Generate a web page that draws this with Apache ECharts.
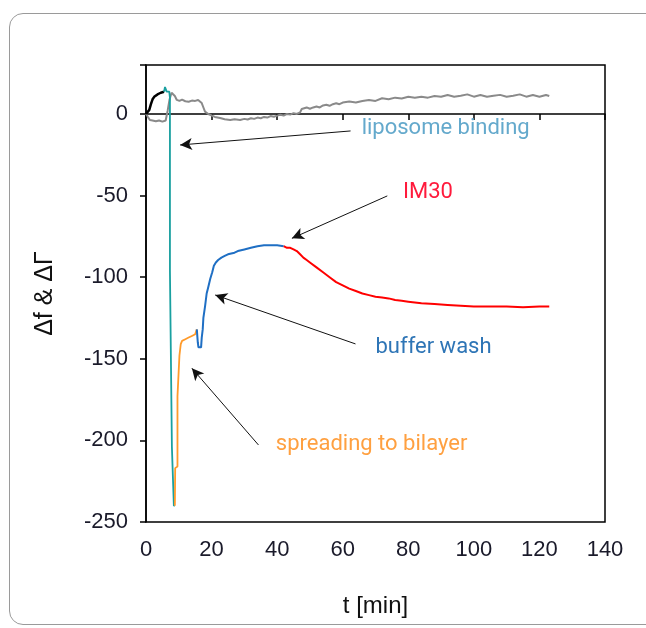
<!DOCTYPE html>
<html>
<head>
<meta charset="utf-8">
<script src="https://cdn.jsdelivr.net/npm/echarts@6/dist/echarts.min.js"></script>
<style>
html,body{margin:0;padding:0;background:#fff;overflow:hidden;width:646px;height:628px}
#frame{position:absolute;left:9px;top:13px;width:1000px;height:610px;border:1.5px solid #9a9a9a;border-radius:14px}
#c{position:absolute;left:0;top:0;width:646px;height:628px}
</style>
</head>
<body>
<div id="frame"></div>
<div id="c"></div>
<script>
// ---- data: [t (min), value] ----
var grayTrace = [[0,0],[0.5,-1.6],[1.2,-3.7],[2,-4],[3,-4.5],[4,-4],[5,-4.7],[6,-4],[6.6,2],[7.2,9],[7.8,13],[8.3,13.7],[8.8,11],[9.4,8.6],[10.2,8],[11,8.8],[12,7.8],[13,7.5],[14,8.2],[15,8],[15.9,8.6],[16.5,9],[17,6.7],[17.6,3.5],[18,1.4],[19,0],[19.6,-0.6],[21,-1.8],[22.6,-2.5],[24,-3.2],[25.7,-3.7],[27,-3.2],[28.7,-3.7],[30,-3],[31,-3.4],[32,-2.6],[33,-3],[34,-2.2],[35,-2.6],[36,-1.8],[37,-2.2],[38,-1.3],[39,-1.7],[40,-1],[41,-0.5],[42,-1],[43,0],[44,-0.4],[45,0.5],[46,0],[47,1],[47.5,3],[48,2],[49,4],[50,3.2],[51,4],[52,4.6],[53,4],[54,5.2],[55,5.6],[56,5],[57,6],[58,6.6],[59,6],[60,7],[62,7.6],[64,7],[66,8],[68,8.6],[70,8],[72,9.6],[74,9],[76,10],[78,9.5],[80,10.5],[82,10],[84,10.6],[86,10],[88,11],[90,10.5],[92,11.6],[94,10.6],[96,11.2],[98,12],[100,10.6],[102,11.6],[104,10.6],[106,11.2],[108,11.7],[110,10.6],[112,11.2],[114,12],[116,10.6],[118,11.6],[120,10.6],[122,11.6],[123,11]];
var blackTrace = [[0,0],[0.5,1],[1,2.5],[1.5,6],[2,9],[2.5,10.5],[3,11.5],[3.5,12],[4,12.5],[4.5,13],[5,13.4],[5.5,13.6]];
var tealTrace = [[5.5,13.6],[5.8,16.5],[6.3,13.7],[7.1,13.7],[7.3,10],[7.3,-96],[7.9,-97],[7.9,-204],[8.5,-205],[8.5,-240],[8.8,-240]];
var orangeTrace = [[8.8,-240],[8.9,-217],[9.6,-216],[9.6,-173],[10.2,-172],[10.2,-148],[10.6,-141],[11,-139],[12,-138],[13,-137],[14,-136],[15,-135],[15.5,-132]];
var blueTrace = [[15.5,-132],[15.8,-140],[16,-143],[16.8,-143],[17,-137],[17.3,-132],[17.5,-125],[18,-118],[18.5,-110],[19,-106],[19.6,-101],[20.2,-97],[20.7,-93],[21.3,-91],[22,-89.5],[23,-88],[24,-87],[25,-86],[26,-85.5],[27,-85],[28,-84],[30,-83],[32,-82],[34,-81],[36,-80.5],[38,-80.5],[40,-80.5],[42,-81]];
var redTrace = [[42,-81],[43,-82],[44,-82],[45,-83],[46,-84],[47,-86],[48,-88],[49,-89.5],[50,-91],[52,-94],[54,-97],[56,-100],[58,-103],[60,-105],[62,-107],[64,-108.5],[66,-110],[68,-111],[70,-112],[72,-112.5],[74,-113],[76,-114],[78,-114.5],[80,-115],[84,-116],[88,-116.5],[92,-117],[96,-117.5],[100,-118],[105,-118],[110,-118],[115,-118.5],[120,-118],[123,-118]];

// annotations: label text, text centre [t,v], arrow tail [t,v], arrow tip [t,v]
var annLabels = ['liposome binding','IM30','buffer wash','spreading to bilayer'];
var annTextPos = [[91.4,-8.6],[86.0,-48.4],[87.7,-142.8],[68.8,-202.8]];
var annTail = [[62.4,-10.4],[73.6,-50.2],[63.9,-140.9],[34.3,-202.8]];
var annTip = [[10.4,-19],[44.5,-76.2],[21.1,-110.9],[14.0,-155.8]];
var annColors = ['#64a9cc','#ff1a3c','#2e75b6','#ffa040'];

var xTicks = [0,20,40,60,80,100,120,140];
var yTicks = [-250,-200,-150,-100,-50,0];

var tickFont = "'Liberation Sans Narrow', 'Liberation Sans', Arial, sans-serif";
var chart = echarts.init(document.getElementById('c'));
function lineSeries(data, color, w, z) {
  return {type:'line', data:data, showSymbol:false, symbol:'none', lineStyle:{color:color, width:w}, z:z, animation:false};
}
var markLineData = annTail.map(function(t,i){
  return [{coord:t},{coord:annTip[i]}];
});
var markPointData = annTextPos.map(function(p,i){
  return {coord:p, value:annLabels[i], label:{color:annColors[i]}};
});
chart.setOption({
  animation:false,
  backgroundColor:'transparent',
  grid:{left:146, top:65, width:459, height:457, show:true, borderColor:'#000', borderWidth:1.5, backgroundColor:'transparent'},
  xAxis:{type:'value', min:0, max:140, interval:20,
    name:'t [min]', nameLocation:'middle', nameGap:72,
    nameTextStyle:{fontFamily:tickFont, fontSize:24, color:'#111'},
    axisLine:{lineStyle:{color:'#000', width:1.5}},
    axisTick:{show:true, length:6, lineStyle:{color:'#000', width:1.5}},
    axisLabel:{fontFamily:tickFont, fontSize:22, color:'#1a1a2a', margin:17,
      formatter:function(v){ return xTicks.indexOf(v) >= 0 ? String(v) : ''; }},
    splitLine:{show:false}},
  yAxis:{type:'value', min:-250, max:30, interval:50,
    name:'Δf & ΔΓ', nameLocation:'middle', nameGap:88, nameRotate:90,
    nameTextStyle:{fontFamily:tickFont, fontSize:25, color:'#111'},
    axisLine:{onZero:false, lineStyle:{color:'#000', width:1.5}},
    axisTick:{show:true, length:6, lineStyle:{color:'#000', width:1.5}},
    axisLabel:{fontFamily:tickFont, fontSize:22, color:'#1a1a2a', margin:18,
      formatter:function(v){ return yTicks.indexOf(v) >= 0 ? String(v) : ''; }},
    splitLine:{show:false}},
  series:[
    lineSeries(grayTrace,'#8a8a8a',2,2),
    lineSeries(blackTrace,'#000000',2.5,3),
    lineSeries(tealTrace,'#1aa0a0',1.8,4),
    lineSeries(orangeTrace,'#ff9a2a',1.8,4),
    lineSeries(blueTrace,'#1f6fc4',2,4),
    lineSeries(redTrace,'#ff0000',2,4),
    {type:'line', data:[], z:6, silent:true,
      markLine:{silent:true, symbol:['none','arrow'], symbolSize:[9,12], animation:false,
        lineStyle:{color:'#111', width:1, type:'solid'}, label:{show:false}, data:markLineData},
      markPoint:{silent:true, symbol:'circle', symbolSize:0, animation:false,
        label:{show:true, position:'inside', fontFamily:'Roboto', fontSize:22,
          formatter:function(p){return p.value;}}, data:markPointData}}
  ]
});
</script>
</body>
</html>
